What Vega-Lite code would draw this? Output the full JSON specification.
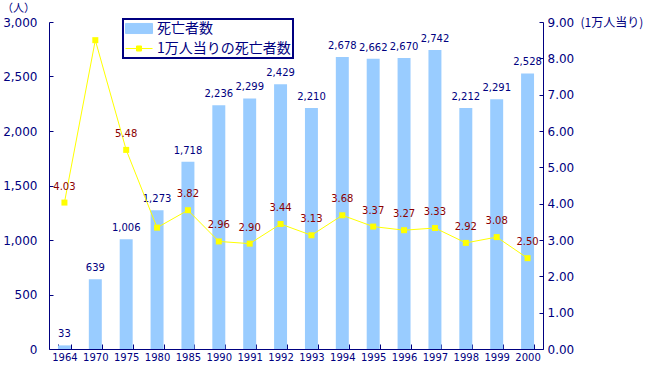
{
  "$schema": "https://vega.github.io/schema/vega-lite/v6.json",
  "width": 494,
  "height": 327,
  "autosize": {"type": "none"},
  "padding": {"left": 49, "top": 22, "right": 107, "bottom": 31},
  "background": "white",
  "config": {
    "view": {"stroke": null},
    "font": "Noto Sans CJK JP",
    "axis": {
      "domainColor": "#000080",
      "tickColor": "#000080",
      "labelColor": "#000080",
      "titleColor": "#000080",
      "grid": false,
      "labelFont": "DejaVu Sans",
      "titleFont": "Noto Sans CJK JP",
      "titleFontWeight": "normal",
      "domainWidth": 1,
      "tickWidth": 1,
      "labelOverlap": false
    }
  },
  "data": {
    "values": [
      {"year": "1964", "deaths": 33, "rate": 4.03, "rlabel": "4.03"},
      {"year": "1970", "deaths": 639, "rate": 8.5, "rlabel": ""},
      {"year": "1975", "deaths": 1006, "rate": 5.48, "rlabel": "5.48"},
      {"year": "1980", "deaths": 1273, "rate": 3.34, "rlabel": ""},
      {"year": "1985", "deaths": 1718, "rate": 3.82, "rlabel": "3.82"},
      {"year": "1990", "deaths": 2236, "rate": 2.96, "rlabel": "2.96"},
      {"year": "1991", "deaths": 2299, "rate": 2.9, "rlabel": "2.90"},
      {"year": "1992", "deaths": 2429, "rate": 3.44, "rlabel": "3.44"},
      {"year": "1993", "deaths": 2210, "rate": 3.13, "rlabel": "3.13"},
      {"year": "1994", "deaths": 2678, "rate": 3.68, "rlabel": "3.68"},
      {"year": "1995", "deaths": 2662, "rate": 3.37, "rlabel": "3.37"},
      {"year": "1996", "deaths": 2670, "rate": 3.27, "rlabel": "3.27"},
      {"year": "1997", "deaths": 2742, "rate": 3.33, "rlabel": "3.33"},
      {"year": "1998", "deaths": 2212, "rate": 2.92, "rlabel": "2.92"},
      {"year": "1999", "deaths": 2291, "rate": 3.08, "rlabel": "3.08"},
      {"year": "2000", "deaths": 2528, "rate": 2.5, "rlabel": "2.50"}
    ]
  },
  "encoding": {
    "x": {
      "field": "year",
      "type": "nominal",
      "sort": null,
      "scale": {"paddingInner": 0.58, "paddingOuter": 0.29},
      "axis": {
        "title": null,
        "labelAngle": 0,
        "labelFontSize": 10,
        "labelPadding": 8,
        "tickBand": "extent",
        "tickSize": -5
      }
    }
  },
  "layer": [
    {
      "layer": [
        {
          "mark": {"type": "bar", "color": "#99CCFF"},
          "encoding": {
            "y": {
              "field": "deaths",
              "type": "quantitative",
              "scale": {"domain": [0, 3000], "nice": false},
              "axis": {
                "orient": "left",
                "values": [0, 500, 1000, 1500, 2000, 2500, 3000],
                "format": ",.0f",
                "labelFontSize": 12,
                "labelOverlap": false,
                "tickSize": -4,
                "labelPadding": 16,
                "title": "（人）",
                "titleAngle": 0,
                "titleFontSize": 11,
                "titleX": -31,
                "titleY": -14,
                "titleAlign": "center",
                "titleBaseline": "middle"
              }
            },
            "color": {
              "datum": "死亡者数",
              "type": "nominal",
              "scale": {"domain": ["死亡者数", "1万人当りの死亡者数"], "range": ["#99CCFF", "#FFFF00"]},
              "legend": {
                "orient": "none",
                "legendX": 74,
                "legendY": -3,
                "title": null,
                "fillColor": "white",
                "strokeColor": "#000080",
                "padding": 2,
                "labelFontSize": 14,
                "labelColor": "#000080",
                "labelFont": "Noto Sans CJK JP",
                "labelOffset": 17,
                "rowPadding": 5,
                "symbolSize": 196,
                "encode": {
                  "legend": {"update": {"strokeWidth": {"value": 2}}},
                  "symbols": {
                    "update": {
                      "shape": {"signal": "datum.value === '死亡者数' ? 'M-1,-0.72H2.86V0.72H-1Z' : 'M-1,0H2.86M0.57,-0.36H1.29V0.36H0.57Z'"},
                      "fill": {"signal": "datum.value === '死亡者数' ? '#99CCFF' : '#FFFF00'"},
                      "stroke": {"signal": "datum.value === '死亡者数' ? 'transparent' : '#FFFF00'"},
                      "strokeWidth": {"value": 1},
                      "size": {"value": 196},
                      "opacity": {"value": 1}
                    }
                  }
                }
              }
            }
          }
        },
        {
          "mark": {"type": "text", "color": "#000080", "fontSize": 10, "font": "DejaVu Sans", "baseline": "bottom", "dy": -6},
          "encoding": {
            "y": {"field": "deaths", "type": "quantitative"},
            "text": {"field": "deaths", "type": "quantitative", "format": ",.0f"}
          }
        }
      ]
    },
    {
      "layer": [
        {
          "mark": {"type": "line", "strokeWidth": 1, "point": {"shape": "square", "size": 36, "filled": true, "opacity": 1}},
          "encoding": {
            "y": {
              "field": "rate",
              "type": "quantitative",
              "scale": {"domain": [0, 9], "nice": false},
              "axis": {
                "orient": "right",
                "values": [0, 1, 2, 3, 4, 5, 6, 7, 8, 9],
                "tickCount": 10,
                "format": ".2f",
                "labelFontSize": 12,
                "labelOverlap": false,
                "tickSize": -4,
                "labelPadding": 8,
                "title": "(1万人当り)",
                "titleAngle": 0,
                "titleFontSize": 12,
                "titleX": 37,
                "titleY": 0,
                "titleAlign": "left",
                "titleBaseline": "middle"
              }
            },
            "color": {"datum": "1万人当りの死亡者数", "type": "nominal"}
          }
        },
        {
          "mark": {"type": "text", "color": "#8B0000", "fontSize": 10, "font": "DejaVu Sans", "baseline": "middle", "dy": -16},
          "encoding": {
            "y": {"field": "rate", "type": "quantitative", "axis": {"orient": "right", "values": [0, 1, 2, 3, 4, 5, 6, 7, 8, 9], "labelOverlap": false}},
            "text": {"field": "rlabel", "type": "nominal"}
          }
        }
      ]
    }
  ],
  "resolve": {"scale": {"y": "independent"}}
}
